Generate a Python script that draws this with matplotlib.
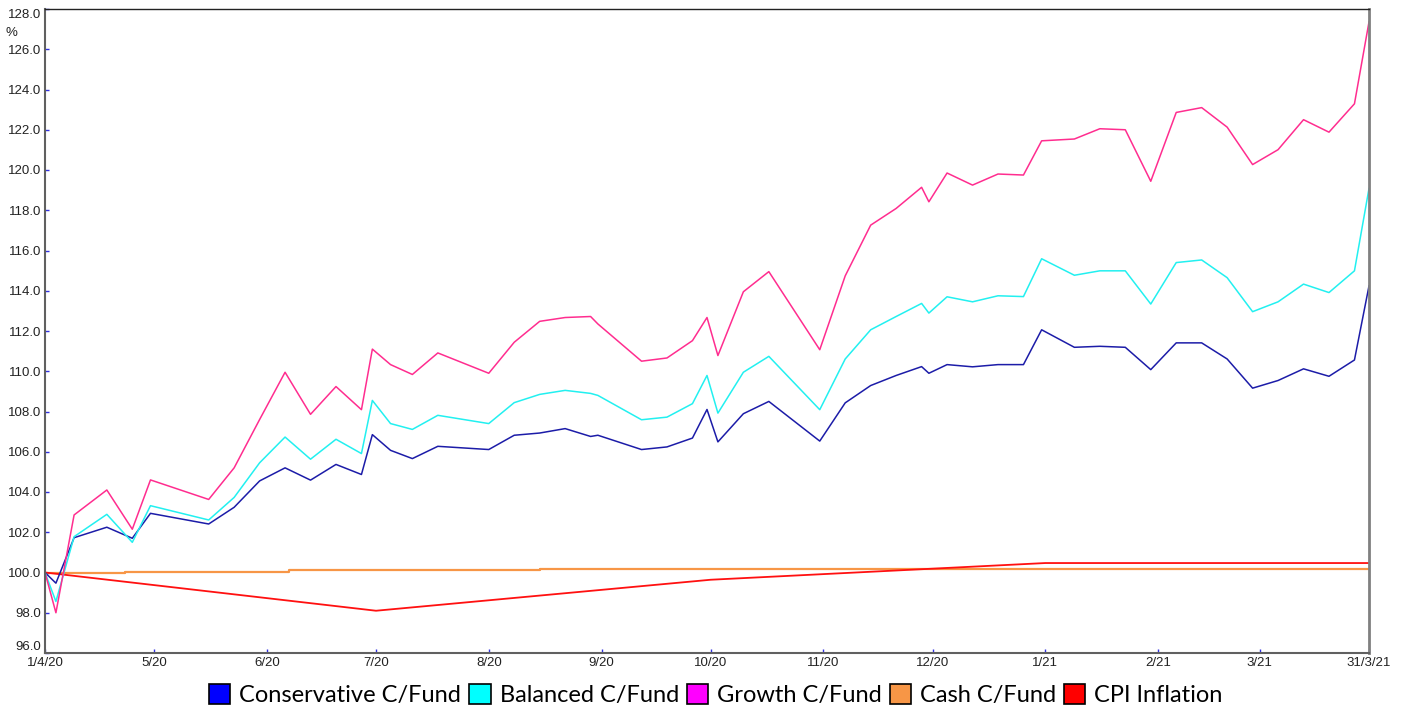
import matplotlib
matplotlib.use('Agg')
import matplotlib.pyplot as plt
from matplotlib.patches import Patch
import pandas as pd

# fund dates (weekly + month ends)
fund_dates = ['2020-04-01', '2020-04-04', '2020-04-09', '2020-04-18', '2020-04-25', '2020-04-30',
              '2020-05-16', '2020-05-23', '2020-05-30', '2020-06-06', '2020-06-13', '2020-06-20',
              '2020-06-27', '2020-06-30', '2020-07-05', '2020-07-11', '2020-07-18', '2020-08-01',
              '2020-08-08', '2020-08-15', '2020-08-22', '2020-08-29', '2020-08-31', '2020-09-12',
              '2020-09-19', '2020-09-26', '2020-09-30', '2020-10-03', '2020-10-10', '2020-10-17',
              '2020-10-31', '2020-11-07', '2020-11-14', '2020-11-21', '2020-11-28', '2020-11-30',
              '2020-12-05', '2020-12-12', '2020-12-19', '2020-12-26', '2020-12-31', '2021-01-09',
              '2021-01-16', '2021-01-23', '2021-01-30', '2021-02-06', '2021-02-13', '2021-02-20',
              '2021-02-27', '2021-03-06', '2021-03-13', '2021-03-20', '2021-03-27', '2021-03-31']

growth = [100.0, 98.0, 102.86, 104.1, 102.15, 104.6,
          103.63, 105.2, 107.6, 109.95, 107.86, 109.24,
          108.09, 111.1, 110.33, 109.84, 110.91, 109.9,
          111.44, 112.48, 112.67, 112.72, 112.35, 110.5,
          110.66, 111.52, 112.67, 110.78, 113.95, 114.95,
          111.07, 114.74, 117.26, 118.09, 119.14, 118.42,
          119.85, 119.25, 119.8, 119.75, 121.45, 121.54,
          122.05, 122.0, 119.44, 122.86, 123.1, 122.13,
          120.27, 121.01, 122.5, 121.88, 123.29, 127.36]

balanced = [100.0, 98.56, 101.78, 102.89, 101.5, 103.32,
            102.61, 103.73, 105.45, 106.73, 105.63, 106.62,
            105.91, 108.55, 107.4, 107.11, 107.81, 107.4,
            108.44, 108.85, 109.05, 108.9, 108.8, 107.59,
            107.72, 108.39, 109.79, 107.92, 109.95, 110.74,
            108.09, 110.61, 112.06, 112.72, 113.37, 112.89,
            113.7, 113.45, 113.75, 113.71, 115.59, 114.77,
            114.99, 114.99, 113.34, 115.4, 115.53, 114.65,
            112.96, 113.45, 114.33, 113.91, 114.99, 119.08]

conservative = [100.0, 99.47, 101.73, 102.25, 101.7, 102.94,
                102.41, 103.24, 104.55, 105.2, 104.59, 105.37,
                104.87, 106.85, 106.07, 105.66, 106.27, 106.11,
                106.82, 106.93, 107.15, 106.76, 106.82, 106.11,
                106.24, 106.68, 108.1, 106.49, 107.89, 108.5,
                106.53, 108.43, 109.29, 109.79, 110.23, 109.9,
                110.33, 110.22, 110.33, 110.33, 112.06, 111.19,
                111.24, 111.19, 110.08, 111.41, 111.41, 110.61,
                109.16, 109.54, 110.12, 109.75, 110.56, 114.24]

cash_dates = ['2020-04-01', '2020-04-23', '2020-06-07', '2020-08-15', '2021-03-31']
cash = [100.0, 100.04, 100.1, 100.17, 100.17]

cpi_dates = ['2020-04-01', '2020-07-01', '2020-10-01', '2021-01-01', '2021-03-31']
cpi = [100.0, 98.1, 99.64, 100.47, 100.47]

tick_dates = ['2020-04-01', '2020-05-01', '2020-06-01', '2020-07-01', '2020-08-01', '2020-09-01',
              '2020-10-01', '2020-11-01', '2020-12-01', '2021-01-01', '2021-02-01', '2021-03-01',
              '2021-03-31']
tick_labels = ['1/4/20', '5/20', '6/20', '7/20', '8/20', '9/20', '10/20', '11/20', '12/20',
               '1/21', '2/21', '3/21', '31/3/21']

legend_names = ['Conservative C/Fund', 'Balanced C/Fund', 'Growth C/Fund', 'Cash C/Fund', 'CPI Inflation']
legend_colors = ['#0000ff', '#00ffff', '#ff00ff', '#f79646', '#ff0000']

fd = pd.to_datetime(fund_dates)

fig = plt.figure(figsize=(14.05, 7.09), dpi=100)
ax = fig.add_axes([45 / 1405, 1 - 653 / 709, (1369 - 45) / 1405, (653 - 9) / 709])

ax.plot(pd.to_datetime(cash_dates), cash, color='#f79646', lw=1.6, drawstyle='steps-post')
ax.plot(pd.to_datetime(cpi_dates), cpi, color='#ff1010', lw=1.3)
ax.plot(fd, conservative, color='#1c1ca8', lw=1.1)
ax.plot(fd, balanced, color='#22f0f0', lw=1.1)
ax.plot(fd, growth, color='#ff2d8f', lw=1.1)

ax.set_xlim(pd.Timestamp('2020-04-01'), pd.Timestamp('2021-03-31'))
ax.set_ylim(96, 128)

font = ['Liberation Sans', 'DejaVu Sans']
yt = list(range(96, 129, 2))
ax.set_yticks(yt)
ylabs = ax.set_yticklabels(['%.1f' % v for v in yt], family=font, fontsize=9.5, color='#222222')
ylabs[0].set_va('bottom')
ylabs[-1].set_va('top')
ax.set_xticks(pd.to_datetime(tick_dates))
ax.set_xticklabels(tick_labels, family=font, fontsize=9.5, color='#222222')
ax.tick_params(axis='both', direction='in', color='#3030e0', length=3, width=1)
ax.tick_params(axis='y', pad=3)
ax.tick_params(axis='x', pad=3)

ax.spines['top'].set_color('#222222')
ax.spines['top'].set_linewidth(1.0)
ax.spines['right'].set_color('#808080')
ax.spines['right'].set_linewidth(2.0)
ax.spines['left'].set_color('#606060')
ax.spines['left'].set_linewidth(1.5)
ax.spines['bottom'].set_color('#606060')
ax.spines['bottom'].set_linewidth(1.5)

fig.text(6 / 1405, 1 - 33 / 709, '%', family=font, fontsize=9.5, color='#222222', va='center')

handles = [Patch(facecolor=c, edgecolor='black', lw=1.2) for c in legend_colors]
fig.legend(handles, legend_names, loc='center', bbox_to_anchor=(716 / 1405, 1 - 695 / 709),
           ncol=5, frameon=False, prop={'family': ['Lato', 'DejaVu Sans'], 'size': 17},
           handlelength=0.9, handleheight=0.9, handletextpad=0.38, columnspacing=0.34,
           borderpad=0)

fig.savefig('out.png', dpi=100)
